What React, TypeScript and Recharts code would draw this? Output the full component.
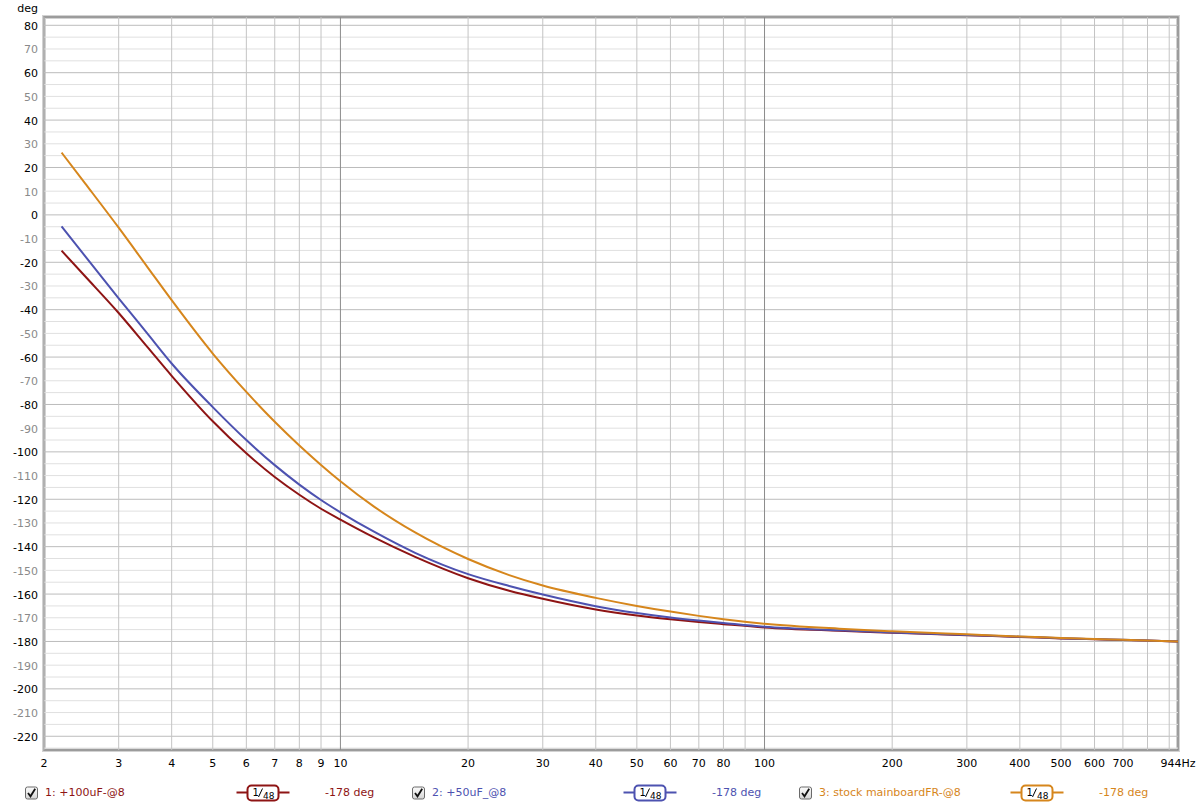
import React from 'react';
import { LineChart, Line, XAxis, YAxis, ReferenceLine, ReferenceArea } from 'recharts';

const FONT = '"DejaVu Sans", Verdana, sans-serif';

// Frequencies (Hz) and phase (deg)
const freqs = [2.2, 2.5, 3, 3.5, 4, 5, 6, 7, 8, 9, 10, 12, 15, 20, 25, 30, 40, 50, 60, 70, 80, 100, 150, 200, 300, 400, 500, 600, 700, 944];
const phase100uF = [-15.1, -25.9, -41.4, -55.6, -67.9, -87.1, -100.6, -110.6, -118.1, -124.0, -128.6, -136.1, -144.3, -153.3, -158.6, -162.0, -166.5, -169.0, -170.6, -171.8, -172.7, -174.1, -175.5, -176.3, -177.4, -178.1, -178.7, -179.1, -179.4, -180.0];
const phase50uF = [-4.9, -17.4, -35.2, -49.9, -62.7, -81.1, -95.0, -105.6, -113.8, -120.3, -125.5, -133.7, -142.6, -151.6, -156.6, -160.2, -165.1, -168.0, -169.9, -171.2, -172.2, -173.8, -175.3, -176.2, -177.3, -178.0, -178.6, -179.0, -179.3, -180.0];
const phaseStock = [26.3, 13.3, -5.4, -21.8, -36.0, -58.5, -74.7, -87.3, -97.3, -105.5, -112.4, -123.1, -134.0, -145.2, -152.0, -156.4, -161.6, -165.0, -167.4, -169.2, -170.6, -172.5, -174.6, -175.7, -177.0, -177.9, -178.5, -179.0, -179.3, -180.0];

const seriesKeys = ['s1', 's2', 's3'];
const seriesNames = ['1: +100uF-@8', '2: +50uF_@8', '3: stock mainboardFR-@8'];
const seriesColors = ['#8e1414', '#4d52b0', '#d6861c'];
const seriesReadouts = ['-178 deg', '-178 deg', '-178 deg'];
const smoothingNum = '1';
const smoothingDen = '48';

const xTicks = [2, 3, 4, 5, 6, 7, 8, 9, 10, 20, 30, 40, 50, 60, 70, 80, 100, 200, 300, 400, 500, 600, 700, 944];
const xMinorGrid = [2, 3, 4, 5, 6, 7, 8, 9, 20, 30, 40, 50, 60, 70, 80, 90, 200, 300, 400, 500, 600, 700, 800, 900];
const xMajorGrid = [10, 100];
const X_MIN = 2;
const X_MAX = 944;

const yTicks = [80, 70, 60, 50, 40, 30, 20, 10, 0, -10, -20, -30, -40, -50, -60, -70, -80, -90, -100, -110, -120, -130, -140, -150, -160, -170, -180, -190, -200, -210, -220];
const Y_MIN = -225.8;
const Y_MAX = 83.5;
const yGrid: number[] = [];
for (let v = 80; v >= -225; v -= 5) yGrid.push(v);

const XTick = (props: any) => {
  const { x, payload } = props;
  const v = payload.value;
  const label = v === 944 ? '944Hz' : String(v);
  return (
    <text x={x} y={767} textAnchor="middle" fontSize={11} fontFamily={FONT} fill="#000">
      {label}
    </text>
  );
};

const YTick = (props: any) => {
  const { y, payload } = props;
  const v = payload.value;
  const dark = v % 20 === 0;
  return (
    <text x={38} y={y + 4.5} textAnchor="end" fontSize={11} fontFamily={FONT} fill={dark ? '#000' : '#8a8a8a'}>
      {v}
    </text>
  );
};

const Checkbox = ({ x, y }: { x: number; y: number }) => (
  <g transform={`translate(${x},${y})`}>
    <rect x={0.5} y={0.5} width={12} height={12} rx={2} fill="url(#cbgrad)" stroke="#6a6a6a" />
    <path d="M3 6.5 L5.5 9.8 L10.2 2.2" stroke="#111" strokeWidth={1.8} fill="none" />
  </g>
);

const SmoothBox = ({ x, y, color }: { x: number; y: number; color: string }) => (
  <g transform={`translate(${x},${y})`}>
    <line x1={0} y1={8} x2={53} y2={8} stroke={color} strokeWidth={2} />
    <rect x={11} y={1} width={31} height={15} rx={4} fill="#fff" stroke={color} strokeWidth={2} />
    <text x={16} y={11} fontSize={10} fontFamily={FONT} fill="#000">{smoothingNum}</text>
    <line x1={22} y1={12.5} x2={26} y2={4} stroke="#000" strokeWidth={1} />
    <text x={26.5} y={14} fontSize={9} fontFamily={FONT} fill="#000">{smoothingDen}</text>
  </g>
);

export default function App() {
  const data = freqs.map((f, i) => ({ f, s1: phase100uF[i], s2: phase50uF[i], s3: phaseStock[i] }));
  const legendStarts = [25, 412, 799];
  return (
    <div style={{ position: 'absolute', left: 0, top: 0, width: 1200, height: 807, background: '#fff', fontFamily: FONT }}>
      <LineChart width={1200} height={807} data={data} margin={{ top: 17, right: 22, bottom: 35, left: 0 }}>
        <XAxis
          dataKey="f"
          type="number"
          scale="log"
          domain={[X_MIN, X_MAX]}
          ticks={xTicks}
          interval={0}
          tick={<XTick />}
          axisLine={false}
          tickLine={false}
          height={22}
          allowDataOverflow
        />
        <YAxis
          type="number"
          domain={[Y_MIN, Y_MAX]}
          ticks={yTicks}
          interval={0}
          tick={<YTick />}
          axisLine={false}
          tickLine={false}
          width={44}
          allowDataOverflow
        />
        {yGrid.map((v) => (
          <ReferenceLine key={'hy' + v} y={v} stroke={v % 20 === 0 ? '#bcbcbc' : '#e0e0e0'} strokeWidth={1} />
        ))}
        {xMinorGrid.map((v) => (
          <ReferenceLine key={'vx' + v} x={v} stroke="#c4c4c4" strokeWidth={1} />
        ))}
        {xMajorGrid.map((v) => (
          <ReferenceLine key={'VX' + v} x={v} stroke="#8c8c8c" strokeWidth={1} />
        ))}
        <ReferenceArea x1={X_MIN} x2={X_MAX} y1={Y_MIN} y2={Y_MAX} fill="none" fillOpacity={0} stroke="#d2d2d2" strokeWidth={4} />
        <ReferenceArea x1={X_MIN} x2={X_MAX} y1={Y_MIN} y2={Y_MAX} fill="none" fillOpacity={0} stroke="#8a8a8a" strokeWidth={1.5} />
        {seriesKeys.map((k, i) => (
          <Line
            key={k}
            type="monotone"
            dataKey={k}
            stroke={seriesColors[i]}
            strokeWidth={2}
            dot={false}
            activeDot={false}
            isAnimationActive={false}
          />
        ))}
      </LineChart>
      <svg width={1200} height={807} style={{ position: 'absolute', left: 0, top: 0, pointerEvents: 'none' }}>
        <defs>
          <linearGradient id="cbgrad" x1="0" y1="0" x2="0" y2="1">
            <stop offset="0" stopColor="#fdfdfd" />
            <stop offset="1" stopColor="#d4d4d4" />
          </linearGradient>
        </defs>
        <text x={38} y={11.5} textAnchor="end" fontSize={11} fontFamily={FONT} fill="#000">deg</text>
        {seriesNames.map((name, i) => {
          const sx = legendStarts[i];
          return (
            <g key={name}>
              <Checkbox x={sx} y={786.5} />
              <text x={sx + 20} y={795.5} fontSize={11} fontFamily={FONT} fill={seriesColors[i]}>{name}</text>
              <SmoothBox x={sx + 211.5} y={784.5} color={seriesColors[i]} />
              <text x={sx + 300} y={795.5} fontSize={11} fontFamily={FONT} fill={seriesColors[i]}>{seriesReadouts[i]}</text>
            </g>
          );
        })}
      </svg>
    </div>
  );
}
